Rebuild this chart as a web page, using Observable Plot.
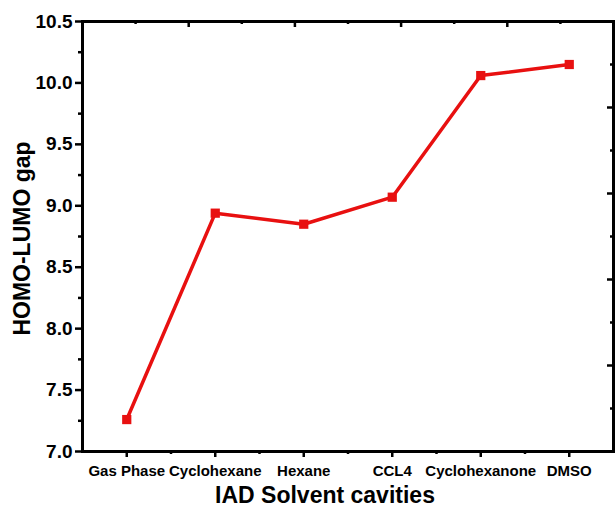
<!DOCTYPE html>
<html><head><meta charset="utf-8">
<script src="https://cdn.jsdelivr.net/npm/d3@7"></script>
<script src="https://cdn.jsdelivr.net/npm/@observablehq/plot@0.6"></script>
<style>body{margin:0;background:#fff}</style>
</head><body><div id="chart"></div>
<script>
const solvents = ["Gas Phase", "Cyclohexane", "Hexane", "CCL4", "Cyclohexanone", "DMSO"];
const gap = [7.26, 8.94, 8.85, 9.07, 10.06, 10.15];
const yTicks = [7.0, 7.5, 8.0, 8.5, 9.0, 9.5, 10.0, 10.5];
const yMinor = [7.25, 7.75, 8.25, 8.75, 9.25, 9.75, 10.25];
const xMinor = [0.5, 1.5, 2.5, 3.5, 4.5];
const topMajor = [0.7, 1.9, 3.1, 4.3];
const topMinor = [0.1, 1.3, 2.5, 3.7, 4.9];
const rightMajor = [7.7, 8.4, 9.1, 9.8];
const rightMinor = [7.35, 8.05, 8.75, 9.45, 10.15];
const xTitle = "IAD Solvent cavities";
const yTitle = "HOMO-LUMO gap";

const data = solvents.map((s, i) => ({i, name: s, v: gap[i]}));
const W = 616, H = 513, mL = 82, mR = 3, mT = 21, mB = 62;
const pw = W - mL - mR, ph = H - mT - mB;
const red = "#e81010";
const plot = Plot.plot({
  width: W, height: H, marginLeft: mL, marginRight: mR, marginTop: mT, marginBottom: mB,
  style: {fontFamily: "'Liberation Sans', Arial, sans-serif", fontWeight: "bold", background: "#fff", color: "#000", overflow: "visible"},
  x: {domain: [-0.5, 5.5]},
  y: {domain: [7, 10.5]},
  marks: [
    Plot.axisY(yTicks, {tickSize: 7, strokeWidth: 2.5, tickPadding: 3, fontSize: 19, tickFormat: d3.format(".1f"), label: null}),
    Plot.axisY(yMinor, {tickSize: 4, strokeWidth: 2.5, tickFormat: () => "", label: null}),
    Plot.axisX(d3.range(solvents.length), {tickSize: 6, strokeWidth: 2.5, tickPadding: 8, fontSize: 15, tickFormat: i => solvents[i], label: null}),
    Plot.axisX(xMinor, {tickSize: 3, strokeWidth: 2.5, tickFormat: () => "", label: null}),
    Plot.tickX(topMajor, {x: d => d, insetBottom: ph - 6, strokeWidth: 2.5}),
    Plot.tickX(topMinor, {x: d => d, insetBottom: ph - 3, strokeWidth: 2.5}),
    Plot.tickY(rightMajor, {y: d => d, insetLeft: pw - 6, strokeWidth: 2.5}),
    Plot.tickY(rightMinor, {y: d => d, insetLeft: pw - 3, strokeWidth: 2.5}),
    Plot.frame({strokeWidth: 3}),
    Plot.line(data, {x: "i", y: "v", stroke: red, strokeWidth: 3.5}),
    Plot.dot(data, {x: "i", y: "v", symbol: "square", fill: red, stroke: "none", r: 5.2}),
    Plot.text([xTitle], {frameAnchor: "bottom", textAnchor: "middle", lineAnchor: "middle", dy: 44, dx: -23, fontSize: 23, fontWeight: "bold"}),
    Plot.text([yTitle], {frameAnchor: "left", textAnchor: "middle", lineAnchor: "middle", rotate: -90, dx: -60, dy: 2, fontSize: 23, fontWeight: "bold"})
  ]
});
document.getElementById("chart").appendChild(plot);
</script>
</body></html>
